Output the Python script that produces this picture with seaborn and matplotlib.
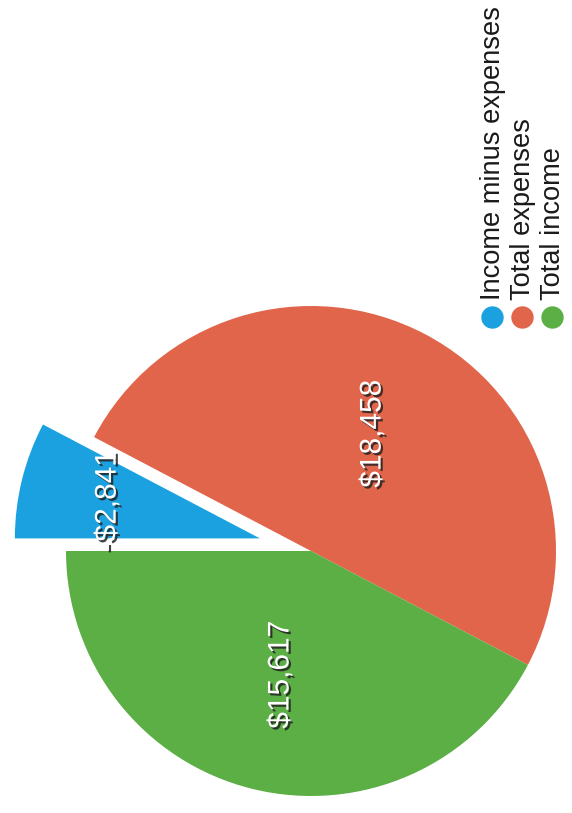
import matplotlib
matplotlib.use("Agg")
import matplotlib.pyplot as plt
import matplotlib.patheffects as pe
import numpy as np
import seaborn as sns

categories = ["Income minus expenses", "Total expenses", "Total income"]
values = [2841, 18458, 15617]
value_labels = ["-$2,841", "$18,458", "$15,617"]
colors = ["#1BA1DF", "#E0654A", "#5BAF45"]

sns.set_theme(style="white")
plt.rcParams["font.family"] = ["Liberation Sans", "DejaVu Sans"]

W, H = 572, 813
fig = plt.figure(figsize=(W / 100, H / 100), dpi=100)
fig.patch.set_facecolor("white")

# pie axes: 1 data unit = R pixels
R = 245.0
cx, cy = 311.0, 551.0
ax = fig.add_axes([0, 0, 1, 1])

wedges, _ = ax.pie(values, colors=colors, startangle=180, counterclock=False,
                   explode=[0.215, 0, 0], radius=1.0,
                   wedgeprops=dict(linewidth=0))
ax.set_xlim(-cx / R, (W - cx) / R)
ax.set_ylim(-(H - cy) / R, cy / R)
ax.set_aspect("equal")
ax.axis("off")

shadow = [pe.SimplePatchShadow(offset=(1.6, -1.6), shadow_rgbFace="#222222", alpha=0.85),
          pe.Normal()]
dists = [0.64, 0.54, 0.52]
for w, lab, d in zip(wedges, value_labels, dists):
    th = np.deg2rad(0.5 * (w.theta1 + w.theta2))
    x0, y0 = w.center
    ax.text(x0 + d * np.cos(th), y0 + d * np.sin(th), lab, rotation=90,
            ha="center", va="center", color="white", fontsize=21.5,
            path_effects=shadow)

# rotated legend
lax = fig.add_axes([0, 0, 1, 1])
lax.set_xlim(0, W)
lax.set_ylim(H, 0)
lax.axis("off")
lax.patch.set_alpha(0)
xs = [492, 522, 552]
for xl, lab, col in zip(xs, categories, colors):
    lax.scatter([xl], [317], s=260, color=col, linewidths=0)
    lax.text(xl + 1, 300, lab, rotation=90, ha="center", va="bottom",
             fontsize=19.6, color="#1a1a1a")

fig.savefig("out.png", dpi=100)
